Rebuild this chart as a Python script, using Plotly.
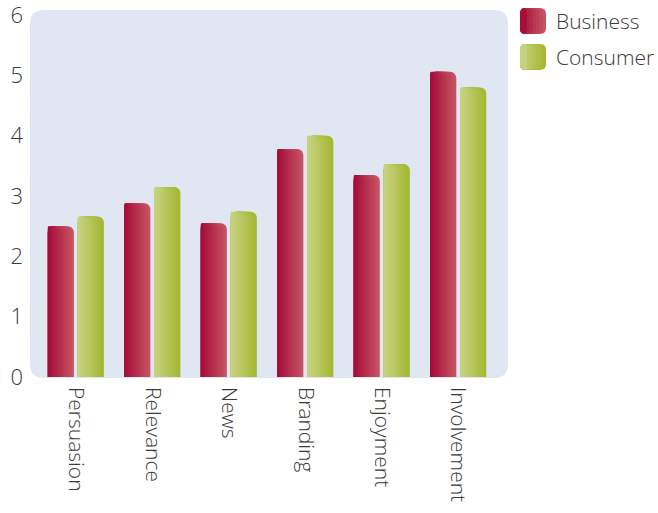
import plotly.graph_objects as go

categories = ["Persuasion", "Relevance", "News", "Branding", "Enjoyment", "Involvement"]
business = [2.50, 2.88, 2.55, 3.78, 3.35, 5.06]
consumer = [2.66, 3.15, 2.74, 4.00, 3.53, 4.80]
series_names = ["Business", "Consumer"]
y_ticks = [0, 1, 2, 3, 4, 5, 6]

# gradient end colours (left, right)
grad = {
    "Business": ((166, 14, 58), (198, 84, 98)),
    "Consumer": ((199, 210, 128), (165, 184, 50)),
}

W, H = 658, 513
ML, MR, MT, MB = 30, 150, 10, 135
PW, PH = W - ML - MR, H - MT - MB
FONT = "Open Sans"
TXT = "#3a3a3a"


def mix(c0, c1, t):
    return "rgb(%d,%d,%d)" % tuple(round(a + (b - a) * t) for a, b in zip(c0, c1))


fig = go.Figure()
N = 12
bw = 0.34
offsets = {"Business": -0.366, "Consumer": 0.026}
for name, vals in zip(series_names, [business, consumer]):
    left, right = grad[name]
    for k in range(N):
        frac = (N - k) / N
        t = 1 - k / (N - 1)  # k=0 widest -> right colour
        fig.add_trace(go.Bar(
            x=list(range(len(categories))), y=vals,
            width=bw * frac, offset=offsets[name],
            marker=dict(color=mix(left, right, t), line=dict(width=0), cornerradius=6),
            showlegend=False, hoverinfo="skip" if k else "y", name=name,
        ))


def px2paper(px, py):
    return (px - ML) / PW, (MT + PH - py) / PH


def rr(x0, y0, x1, y1, r):
    # pixel coords -> paper rounded rect path
    def p(x, y):
        a, b = px2paper(x, y)
        return f"{a:.5f},{b:.5f}"
    return (f"M {p(x0 + r, y0)} L {p(x1 - r, y0)} Q {p(x1, y0)} {p(x1, y0 + r)} "
            f"L {p(x1, y1 - r)} Q {p(x1, y1)} {p(x1 - r, y1)} L {p(x0 + r, y1)} "
            f"Q {p(x0, y1)} {p(x0, y1 - r)} L {p(x0, y0 + r)} Q {p(x0, y0)} {p(x0 + r, y0)} Z")


shapes = [dict(type="path", xref="paper", yref="paper", path=rr(30, 10, 508, 378, 14),
               fillcolor="#e0e7f3", line=dict(width=0), layer="below")]

annotations = []
for i, name in enumerate(series_names):
    left, right = grad[name]
    y0 = 8 + i * 36
    M = 8
    for k in range(M):
        x1 = 546 - k * 26 / M
        shapes.append(dict(type="path", xref="paper", yref="paper",
                           path=rr(520, y0, max(x1, 527), y0 + 26, 6),
                           fillcolor=mix(left, right, 1 - k / (M - 1)), line=dict(width=0)))
    ax, ay = px2paper(554, y0 + 13)
    annotations.append(dict(text=name, x=ax, y=ay, xref="paper", yref="paper",
                            xanchor="left", yanchor="middle", showarrow=False,
                            font=dict(family=FONT, size=21, color=TXT, weight=300)))

fig.update_layout(
    width=W, height=H, margin=dict(l=ML, r=MR, t=MT, b=MB, autoexpand=False),
    paper_bgcolor="white", plot_bgcolor="rgba(0,0,0,0)",
    barmode="overlay", showlegend=False,
    shapes=shapes, annotations=annotations,
    font=dict(family=FONT, color=TXT, weight=300),
    xaxis=dict(range=[-0.60, 5.65], tickvals=list(range(len(categories))),
               ticktext=categories, tickangle=90, showgrid=False, zeroline=False,
               showline=False, ticks="", ticklabelstandoff=8, automargin=False,
               ticklabeloverflow="allow",
               tickfont=dict(family=FONT, size=21, color=TXT, weight=300)),
    yaxis=dict(range=[-0.017, 6.086], tickvals=y_ticks, showgrid=False, zeroline=False,
               showline=False, ticks="", ticklabelstandoff=6, automargin=False,
               ticklabeloverflow="allow",
               tickfont=dict(family=FONT, size=22, color=TXT, weight=300)),
)

fig.write_html("out.html")
